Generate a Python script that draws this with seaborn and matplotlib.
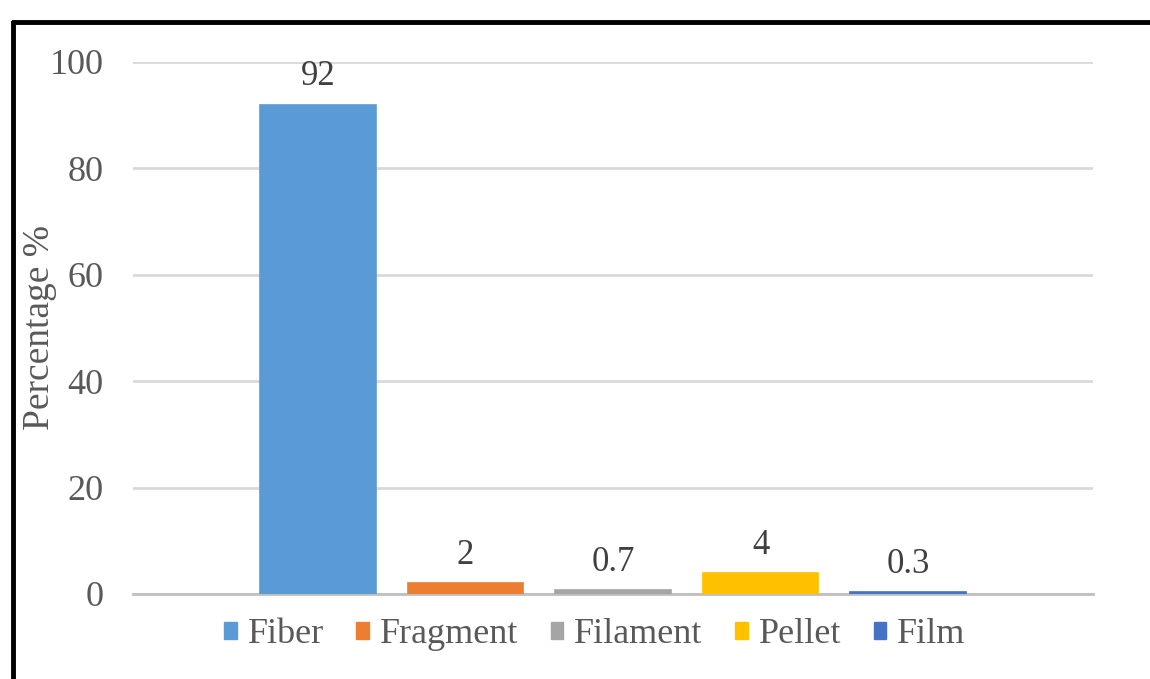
import matplotlib
matplotlib.use("Agg")
import matplotlib.pyplot as plt
from matplotlib.lines import Line2D
import seaborn as sns

categories = ["Fiber", "Fragment", "Filament", "Pellet", "Film"]
percentages = [92, 2, 0.7, 4, 0.3]
value_labels = ["92", "2", "0.7", "4", "0.3"]
colors = ["#5B9BD5", "#ED7D31", "#A5A5A5", "#FFC000", "#4472C4"]
yticks = [0, 20, 40, 60, 80, 100]

sns.set_style("white")
plt.rcParams["font.family"] = ["Liberation Serif", "DejaVu Serif"]

fig = plt.figure(figsize=(11.5, 6.79), dpi=100)
ax = fig.add_axes([133 / 1150, 1 - 594 / 679, 960 / 1150, 532 / 679])

sns.barplot(x=categories, y=percentages, hue=categories, palette=colors,
            width=0.78, ax=ax, legend=False, saturation=1, zorder=3,
            linewidth=1.2)
for cont, c in zip(ax.containers, colors):
    for bar in cont:
        bar.set_edgecolor(c)

ax.set_xlim(-1.254, 5.254)
ax.set_ylim(0, 100)
ax.set_yticks(yticks)
ax.yaxis.grid(True, color="#D9D9D9", linewidth=2)
ax.set_axisbelow(True)
ax.set_xticks([])
ax.set_xlabel("")
for s in ["top", "right", "left"]:
    ax.spines[s].set_visible(False)
ax.spines["bottom"].set_color("#BFBFBF")
ax.spines["bottom"].set_linewidth(2)
ax.spines["bottom"].set_zorder(2)
ax.tick_params(axis="y", length=0, pad=21, labelsize=26, labelcolor="#595959")
ax.set_ylabel("Percentage %", fontsize=27, color="#595959")
ax.yaxis.set_label_coords(-0.079, 0.5)

for cont, lab in zip(ax.containers, value_labels):
    ax.bar_label(cont, labels=[lab], padding=8, fontsize=25, color="#404040")

handles = [plt.Rectangle((0, 0), 1, 1, color=c) for c in colors]
ax.legend(handles, categories, loc="center", bbox_to_anchor=(0.481, -0.077),
          ncol=5, frameon=False, fontsize=26, labelcolor="#595959",
          handlelength=0.35, handleheight=0.35, handletextpad=0.3,
          columnspacing=0.9)

# outer chart frame (top and left visible)
fig.add_artist(Line2D([13 / 1150, 13 / 1150], [0, 1 - 22 / 679], color="black", lw=3.5,
                      transform=fig.transFigure))
fig.add_artist(Line2D([13 / 1150, 1], [1 - 22 / 679, 1 - 22 / 679], color="black", lw=3.5,
                      transform=fig.transFigure))

fig.savefig("out.png", dpi=100)
